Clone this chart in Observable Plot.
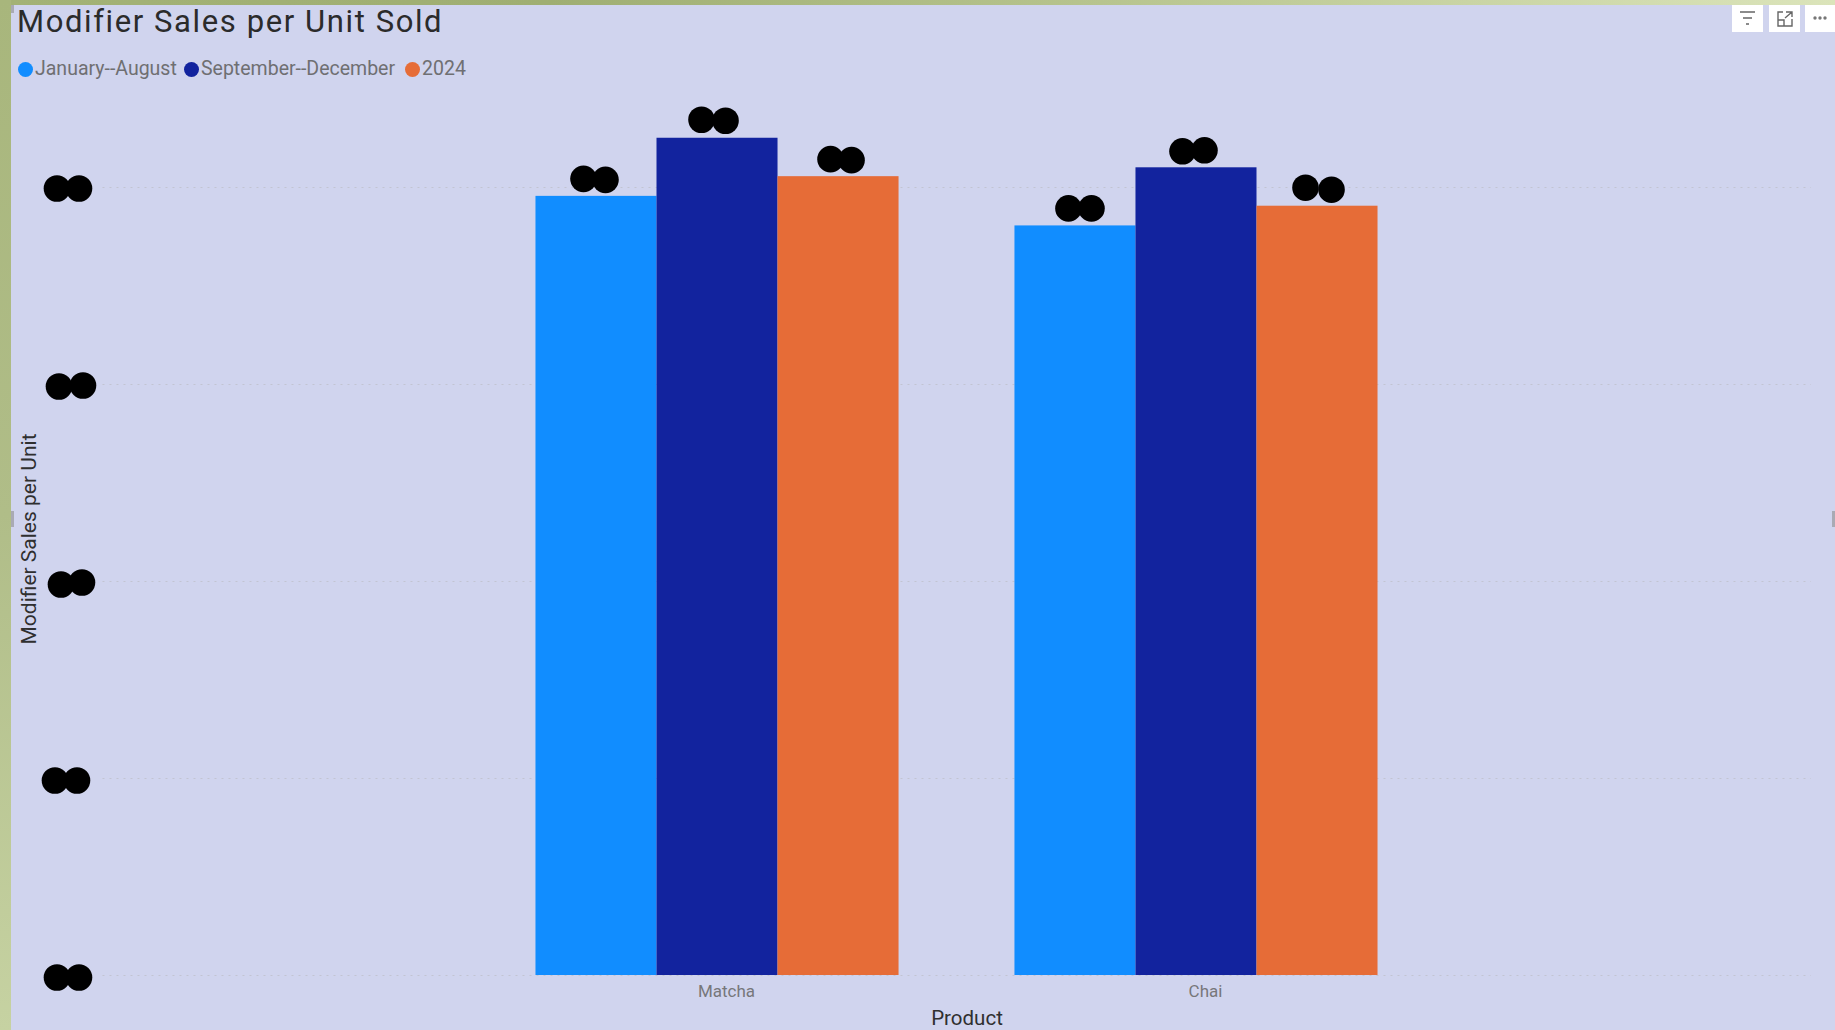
<!DOCTYPE html>
<html>
<head>
<meta charset="utf-8">
<script src="https://cdn.jsdelivr.net/npm/d3@7"></script>
<script src="https://cdn.jsdelivr.net/npm/@observablehq/plot@0.6"></script>
<style>
html,body{margin:0;padding:0;width:1835px;height:1030px;overflow:hidden;background:#d0d4ee;font-family:Roboto,sans-serif}
#page{position:relative;width:1835px;height:1030px;overflow:hidden}
#top{position:absolute;left:0;top:0;width:1835px;height:5px;background:linear-gradient(90deg,#a3b276,#9fae72 30%,#b7c48e 60%,#dbe4ba)}
#left{position:absolute;left:0;top:0;width:11px;height:1030px;background:linear-gradient(180deg,#a8b67c,#b0bd88 50%,#c6d2a2)}
#title{position:absolute;left:17px;top:2px;font-size:31px;line-height:40px;letter-spacing:1.6px;color:#2b2b2b;white-space:nowrap}
#legend{position:absolute;left:0;top:57px;height:24px;font-size:19.5px;line-height:24px;color:#6f6f72}
.item{position:absolute;top:0;white-space:nowrap}
.swatch{position:absolute;width:15px;height:15px;border-radius:50%;top:4.5px}
.btn{position:absolute;top:5px;height:27px;background:#fff}
.handle{position:absolute;width:3px;background:#a9aab4}
#chart{position:absolute;left:0;top:90px}
</style>
</head>
<body>
<div id="page">
  <div id="chart"></div>
  <div id="top"></div>
  <div id="left"></div>
  <div class="handle" style="left:11px;top:5px;height:8px"></div>
  <div class="handle" style="left:11px;top:511px;height:16px"></div>
  <div class="handle" style="left:1832px;top:511px;height:16px"></div>
  <div id="title"></div>
  <div id="legend"></div>
  <div class="btn" style="left:1732px;width:31px"><svg width="31" height="27"><path d="M8 7H23M11 13H20M14 19H17" stroke="#666" stroke-width="1.4"/></svg></div>
  <div class="btn" style="left:1769px;width:31px"><svg width="31" height="27" fill="none" stroke="#666" stroke-width="1.4"><path d="M14 7H9V21H23V14M9 15H15V21M17 7H23V12M23 7L16 13"/></svg></div>
  <div class="btn" style="left:1805px;width:30px"><svg width="30" height="27"><g fill="#777"><circle cx="10" cy="13" r="1.7"/><circle cx="15" cy="13" r="1.7"/><circle cx="20" cy="13" r="1.7"/></g></svg></div>
</div>
<script>
const titleText = "Modifier Sales per Unit Sold";
const products = ["Matcha", "Chai"];
const seriesNames = ["January--August", "September--December", "2024"];
const seriesColors = ["#118DFF", "#12239E", "#E66C37"];
const matchaValues = [3.955, 4.25, 4.055];
const chaiValues = [3.805, 4.10, 3.905];
const yTicks = [0, 1, 2, 3, 4];
const xTitle = "Product";
const yTitle = "Modifier Sales per Unit";

const bars = [
  ...seriesNames.map((s, i) => ({product: "Matcha", series: s, value: matchaValues[i]})),
  ...seriesNames.map((s, i) => ({product: "Chai", series: s, value: chaiValues[i]}))
];

document.getElementById("title").textContent = titleText;
const legendOffsets = [18, 184, 405];
const legend = document.getElementById("legend");
seriesNames.forEach((s, i) => {
  const it = document.createElement("div");
  it.className = "item";
  it.style.left = legendOffsets[i] + "px";
  it.innerHTML = `<span class="swatch" style="background:${seriesColors[i]};left:0"></span><span style="margin-left:17px">${s}</span>`;
  legend.appendChild(it);
});

// Layout: frame-anchored marks are placed relative to the first product's band.
const firstBandLeft = 535, firstBandRight = 898.5, plotLeft = 102, plotRight = 1811, pageWidth = 1835;
const inFirstBand = {fx: () => products[0]};
const maskColor = "#000";
const maskRadius = 13.3;
// Redaction blobs over the value and tick labels: offsets are layout, not data.
const tickMaskDx = [[56, 78], [54, 76], [60, 81], [58, 82], [56, 78]];
const tickMaskDy = [[2, 2], [2, 2], [3, 1], [2, 1], [1, 1]];
const tickMasks = yTicks.flatMap((t, i) => [0, 1].map(k =>
  Plot.dot([t], {...inFirstBand, y: d => d, frameAnchor: "left", dx: tickMaskDx[i][k] - firstBandLeft, dy: tickMaskDy[i][k], r: maskRadius, fill: maskColor})
));
const barMaskDx = [[-13, 9], [-16, 8], [-8, 13], [-7, 16], [-14, 8], [-12, 14]];
const barMaskDy = [[-17.5, -16.5], [-18.5, -17.5], [-17.5, -16.5], [-17.5, -17.5], [-16.5, -17.5], [-18.5, -16.5]];
const barMasks = bars.flatMap((b, i) => [0, 1].map(k =>
  Plot.dot([b], {fx: "product", x: "series", y: "value", dx: barMaskDx[i][k], dy: barMaskDy[i][k], r: maskRadius, fill: maskColor})
));

const chart = Plot.plot({
  width: pageWidth,
  height: 940,
  marginLeft: plotLeft,
  marginRight: pageWidth - plotRight,
  marginTop: 0,
  marginBottom: 55,
  style: {background: "transparent", fontFamily: "Roboto, sans-serif"},
  fx: {domain: products, paddingInner: 0.242, paddingOuter: 0.905, round: false, axis: null},
  x: {domain: seriesNames, padding: 0, round: false, axis: null},
  y: {domain: [0, 885 / 197], axis: null},
  color: {domain: seriesNames, range: seriesColors},
  marks: [
    Plot.ruleY(yTicks, {...inFirstBand, insetLeft: plotLeft - firstBandLeft, insetRight: firstBandRight - plotRight, stroke: "#c2c4d2", strokeDasharray: "2,5"}),
    Plot.barY(bars, {fx: "product", x: "series", y: "value", fill: "series"}),
    ...barMasks,
    ...tickMasks,
    Plot.axisFx({anchor: "bottom", label: null, tickSize: 0, tickPadding: 9, fontSize: 17, dx: 9, color: "#77777a"}),
    Plot.text([xTitle], {...inFirstBand, frameAnchor: "bottom", dx: 249.5, dy: 43, lineAnchor: "middle", fontSize: 20.5, fill: "#2f2f2f"}),
    Plot.text([yTitle], {...inFirstBand, frameAnchor: "left", dx: 28 - firstBandLeft, dy: 6, rotate: -90, textAnchor: "middle", fontSize: 21, fill: "#2f2f2f"})
  ]
});
document.getElementById("chart").appendChild(chart);
</script>
</body>
</html>
